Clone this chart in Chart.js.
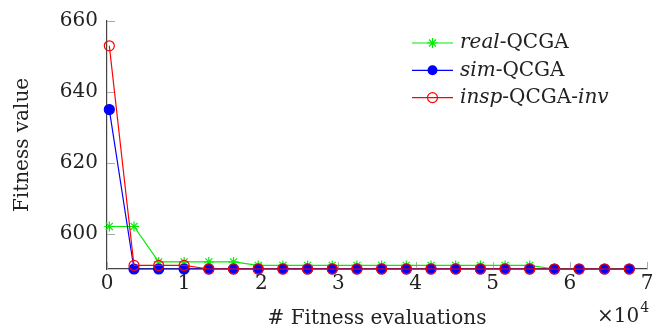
<!DOCTYPE html>
<html>
<head>
    <title>Fitness value vs evaluations</title>
    <script src="https://cdn.jsdelivr.net/npm/chart.js"></script>
    <style>
        body { margin: 0; background: #fff; }
        .chart-container { width: 662px; height: 331px; }
    </style>
</head>
<body>
    <div class="chart-container">
        <canvas id="fitChart"></canvas>
    </div>
    <script>
        // data (x in fitness evaluations)
        const evals = [300, 3500, 6700, 10000, 13200, 16400, 19600, 22800, 26000, 29200, 32400,
                       35600, 38800, 42000, 45200, 48400, 51600, 54800, 58000, 61200, 64500, 67700];
        const realQCGA = [602, 602, 592, 592, 592, 592, 591, 591, 591, 591, 591,
                          591, 591, 591, 591, 591, 591, 591, 590, 590, 590, 590];
        const simQCGA = [635, 590, 590, 590, 590, 590, 590, 590, 590, 590, 590,
                         590, 590, 590, 590, 590, 590, 590, 590, 590, 590, 590];
        const inspQCGA = [653, 591, 591, 591, 590, 590, 590, 590, 590, 590, 590,
                          590, 590, 590, 590, 590, 590, 590, 590, 590, 590, 590];

        const xTicks = [0, 1, 2, 3, 4, 5, 6, 7];   // x 10^4
        const yTicks = [600, 620, 640, 660];

        const FONT = 'DejaVu Serif';
        const FSIZE = 20;

        function pts(ys) {
            return ys.map((y, i) => ({ x: evals[i], y: y }));
        }

        // legend entries: text parts [text, italic]
        const legendItems = [
            { color: '#00ee00', style: 'star', parts: [['real', true], ['-QCGA', false]] },
            { color: '#0000ff', style: 'dot', parts: [['sim', true], ['-QCGA', false]] },
            { color: '#ff0000', style: 'ring', parts: [['insp', true], ['-QCGA-', false], ['inv', true]] }
        ];

        function marker(ctx, style, color, x, y) {
            ctx.save();
            ctx.strokeStyle = color;
            ctx.fillStyle = color;
            ctx.lineWidth = 1.2;
            ctx.beginPath();
            if (style === 'star') {
                const r = 5;
                for (let k = 0; k < 4; k++) {
                    const a = k * Math.PI / 4;
                    ctx.moveTo(x - r * Math.cos(a), y - r * Math.sin(a));
                    ctx.lineTo(x + r * Math.cos(a), y + r * Math.sin(a));
                }
                ctx.stroke();
            } else if (style === 'dot') {
                ctx.arc(x, y, 5, 0, Math.PI * 2);
                ctx.fill();
            } else {
                ctx.arc(x, y, 5, 0, Math.PI * 2);
                ctx.stroke();
            }
            ctx.restore();
        }

        const decor = {
            id: 'decor',
            beforeDatasetsDraw(chart) {
                const ctx = chart.ctx;
                const xs = chart.scales.x, ys = chart.scales.y;
                const a = chart.chartArea;
                ctx.save();
                ctx.strokeStyle = '#aaaaaa';
                ctx.lineWidth = 1;
                yTicks.forEach(v => {
                    const py = Math.round(ys.getPixelForValue(v)) + 0.5;
                    ctx.beginPath();
                    ctx.moveTo(a.left, py);
                    ctx.lineTo(a.left + 8, py);
                    ctx.stroke();
                });
                xTicks.forEach(v => {
                    const px = Math.round(xs.getPixelForValue(v * 1e4)) + 0.5;
                    ctx.beginPath();
                    ctx.moveTo(px, a.bottom);
                    ctx.lineTo(px, a.bottom - 7);
                    ctx.stroke();
                });
                ctx.restore();
            },
            afterDraw(chart) {
                const ctx = chart.ctx;
                ctx.save();
                // legend
                let y = 43;
                legendItems.forEach(item => {
                    ctx.strokeStyle = item.color;
                    ctx.lineWidth = 1.2;
                    ctx.beginPath();
                    ctx.moveTo(412, y);
                    ctx.lineTo(453, y);
                    ctx.stroke();
                    marker(ctx, item.style, item.color, 432.5, y);
                    let tx = 460;
                    ctx.fillStyle = '#222';
                    ctx.textBaseline = 'middle';
                    item.parts.forEach(p => {
                        ctx.font = (p[1] ? 'italic ' : '') + FSIZE + 'px "' + FONT + '"';
                        ctx.fillText(p[0], tx, y);
                        tx += ctx.measureText(p[0]).width;
                    });
                    y += 27.3;
                });
                // x10^4 multiplier
                ctx.fillStyle = '#222';
                ctx.textBaseline = 'alphabetic';
                ctx.font = FSIZE + 'px "' + FONT + '"';
                ctx.fillText('\u00d710', 597, 322);
                const w = ctx.measureText('\u00d710').width;
                ctx.font = '14px "' + FONT + '"';
                ctx.fillText('4', 597 + w + 1, 312);
                ctx.restore();
            }
        };

        const ctx = document.getElementById('fitChart').getContext('2d');
        const chart = new Chart(ctx, {
            type: 'line',
            data: {
                datasets: [
                    {
                        label: 'real-QCGA',
                        data: pts(realQCGA),
                        borderColor: '#00ee00',
                        backgroundColor: '#00ee00',
                        borderWidth: 1.2,
                        pointStyle: 'star',
                        pointRadius: 5,
                        pointBorderWidth: 1.2,
                        order: 2
                    },
                    {
                        label: 'sim-QCGA',
                        data: pts(simQCGA),
                        borderColor: '#0000ff',
                        backgroundColor: '#0000ff',
                        borderWidth: 1.2,
                        pointStyle: 'circle',
                        pointRadius: 5,
                        order: 1
                    },
                    {
                        label: 'insp-QCGA-inv',
                        data: pts(inspQCGA),
                        borderColor: '#ff0000',
                        backgroundColor: 'rgba(0,0,0,0)',
                        borderWidth: 1.2,
                        pointStyle: 'circle',
                        pointRadius: 5,
                        pointBorderWidth: 1.2,
                        order: 0
                    }
                ]
            },
            options: {
                responsive: true,
                maintainAspectRatio: false,
                animation: false,
                clip: false,
                layout: { padding: { top: 18, right: 15, left: 0, bottom: 0 } },
                elements: { line: { tension: 0 } },
                plugins: {
                    legend: { display: false },
                    tooltip: { enabled: false }
                },
                scales: {
                    x: {
                        type: 'linear',
                        min: 0,
                        max: 70000,
                        afterBuildTicks: s => { s.ticks = xTicks.map(v => ({ value: v * 1e4 })); },
                        afterFit: s => { s.height = 62; },
                        grid: { display: false, drawTicks: false },
                        border: { display: true, color: '#444', width: 1.2 },
                        ticks: {
                            color: '#222',
                            padding: 3,
                            maxRotation: 0,
                            font: { family: FONT, size: FSIZE },
                            callback: v => String(v / 1e4)
                        },
                        title: {
                            display: true,
                            text: '# Fitness evaluations',
                            color: '#222',
                            padding: { top: 0, bottom: 0 },
                            font: { family: FONT, size: FSIZE }
                        }
                    },
                    y: {
                        min: 590,
                        max: 660,
                        afterBuildTicks: s => { s.ticks = yTicks.map(v => ({ value: v })); },
                        afterFit: s => { s.width = 107; },
                        grid: { display: false, drawTicks: false },
                        border: { display: true, color: '#444', width: 1.2 },
                        ticks: {
                            color: '#222',
                            padding: 9,
                            font: { family: FONT, size: FSIZE }
                        },
                        title: {
                            display: true,
                            text: 'Fitness value',
                            color: '#222',
                            padding: { top: 11, bottom: 0 },
                            font: { family: FONT, size: FSIZE }
                        }
                    }
                }
            },
            plugins: [decor]
        });
    </script>
</body>
</html>
